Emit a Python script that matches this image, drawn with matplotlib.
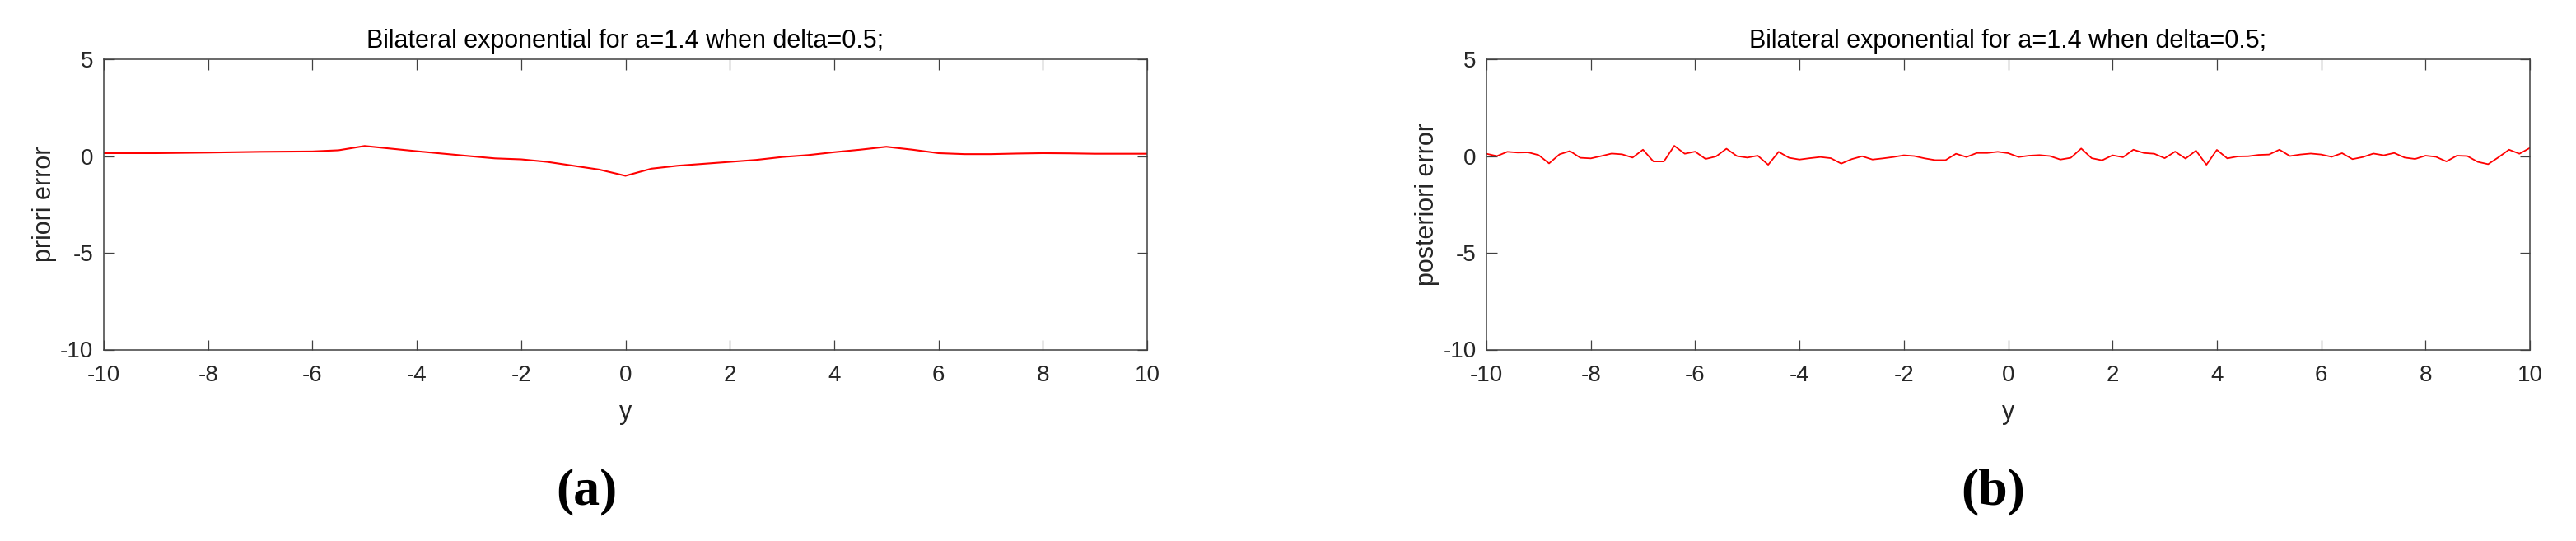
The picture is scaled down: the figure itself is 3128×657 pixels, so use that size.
import numpy as np
import matplotlib
matplotlib.use("Agg")
import matplotlib.pyplot as plt

# ---- data ----
title_text = "Bilateral exponential for a=1.4 when delta=0.5;"
xticks = [-10, -8, -6, -4, -2, 0, 2, 4, 6, 8, 10]
yticks = [-10, -5, 0, 5]

# panel (a): priori error
prior_y = [-10, -9, -8, -7, -6, -5.5, -5, -4, -3, -2.5, -2, -1.5, -1, -0.5, 0,
           0.5, 1, 1.5, 2, 2.5, 3, 3.5, 4, 4.5, 5, 5.5, 6, 6.5, 7, 7.5, 8, 8.5, 9, 9.5, 10]
prior_err = [0.15, 0.15, 0.18, 0.22, 0.24, 0.30, 0.52, 0.25, 0.00, -0.12, -0.17, -0.30, -0.50, -0.70, -1.02,
             -0.65, -0.50, -0.40, -0.30, -0.20, -0.05, 0.05, 0.20, 0.33, 0.48, 0.33, 0.15, 0.10, 0.10, 0.13, 0.15, 0.14, 0.12, 0.12, 0.12]

# panel (b): posteriori error, sampled every 0.2 from -10 to 10
post_err = [0.12, 0.00, 0.22, 0.18, 0.19, 0.05, -0.38, 0.09, 0.26, -0.09,
            -0.12, 0.00, 0.13, 0.09, -0.08, 0.33, -0.28, -0.28, 0.53, 0.12,
            0.23, -0.15, -0.02, 0.38, 0.00, -0.08, 0.02, -0.45, 0.22, -0.09,
            -0.18, -0.11, -0.05, -0.11, -0.39, -0.16, -0.01, -0.18, -0.12, -0.05,
            0.04, 0.00, -0.12, -0.21, -0.21, 0.12, -0.05, 0.16, 0.16, 0.22,
            0.15, -0.05, 0.02, 0.05, 0.00, -0.18, -0.09, 0.39, -0.11, -0.22,
            0.04, -0.06, 0.33, 0.16, 0.12, -0.11, 0.23, -0.13, 0.28, -0.45,
            0.32, -0.12, -0.02, -0.01, 0.06, 0.08, 0.33, 0.00, 0.08, 0.13,
            0.08, -0.04, 0.15, -0.16, -0.05, 0.13, 0.04, 0.16, -0.08, -0.15,
            0.02, -0.04, -0.28, 0.02, 0.00, -0.30, -0.42, -0.06, 0.33, 0.12,
            0.42]
post_y = np.linspace(-10, 10, len(post_err))

# ---- figure ----
W, H = 3128, 657
plt.rcParams['font.family'] = ['Liberation Sans', 'DejaVu Sans']
plt.rcParams['axes.unicode_minus'] = False
fig = plt.figure(figsize=(W / 100, H / 100), dpi=100)

axc = '#404040'
txtc = '#262626'

def px_axes(x0, x1, y0, y1):
    return [x0 / W, 1 - y1 / H, (x1 - x0) / W, (y1 - y0) / H]

def style(ax, ylabel):
    ax.set_xlim(-10, 10)
    ax.set_ylim(-10, 5)
    ax.set_xticks(xticks)
    ax.set_yticks(yticks)
    ax.tick_params(axis='both', direction='in', length=9, width=0.9, color=axc,
                   labelcolor=txtc, labelsize=20, top=True, right=True)
    ax.tick_params(axis='x', pad=13)
    ax.tick_params(axis='y', pad=9)
    for s in ax.spines.values():
        s.set_color(axc)
        s.set_linewidth(1.1)
    ax.set_title(title_text, fontsize=22, color='black', pad=10)
    ax.set_xlabel('y', fontsize=22, color=txtc)
    ax.set_ylabel(ylabel, fontsize=22, color=txtc)
    ax.xaxis.set_label_coords(0.5, -0.175)
    ax.yaxis.set_label_coords(-0.045, 0.5)

ax1 = fig.add_axes(px_axes(126, 1393, 72, 424.5))
ax1.plot(prior_y, prior_err, color='#ff0000', lw=1.5)
style(ax1, 'priori error')

ax2 = fig.add_axes(px_axes(1805, 3072, 72, 424.5))
ax2.plot(post_y, post_err, color='#ff0000', lw=1.3)
style(ax2, 'posteriori error')

fig.text(712 / W, 1 - 597 / H, '(a)', ha='center', va='center', fontsize=46,
         fontweight='bold', family='Liberation Serif')
fig.text(2420 / W, 1 - 597 / H, '(b)', ha='center', va='center', fontsize=46,
         fontweight='bold', family='Liberation Serif')

fig.savefig('out.png', dpi=100)
